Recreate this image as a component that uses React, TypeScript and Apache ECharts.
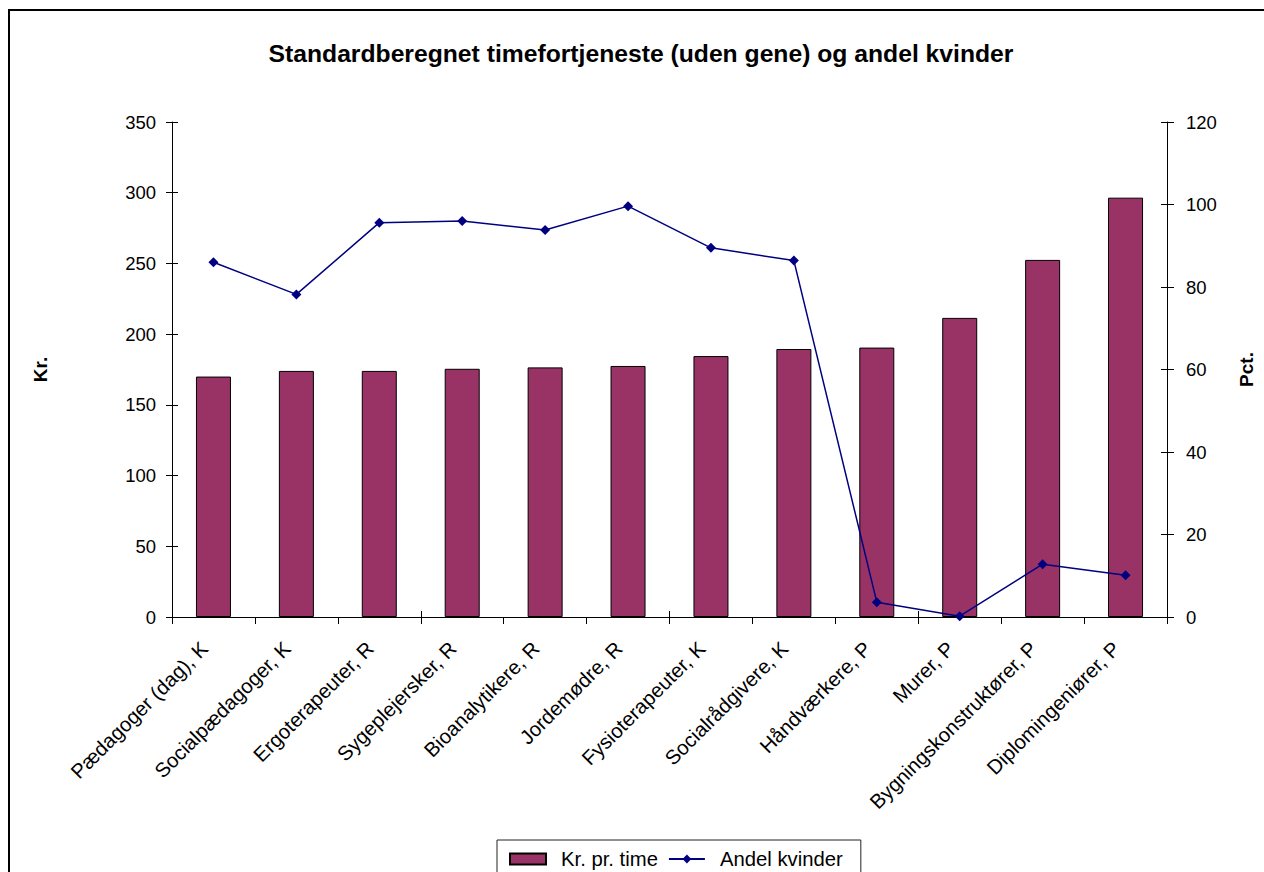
import React, { useEffect, useRef } from "react";
import * as echarts from "echarts";

const categories = [
  "Pædagoger (dag), K",
  "Socialpædagoger, K",
  "Ergoterapeuter, R",
  "Sygeplejersker, R",
  "Bioanalytikere, R",
  "Jordemødre, R",
  "Fysioterapeuter, K",
  "Socialrådgivere, K",
  "Håndværkere, P",
  "Murer, P",
  "Bygningskonstruktører, P",
  "Diplomingeniører, P",
];
const krPrTime = [170, 174, 174, 175.5, 176.5, 177.5, 184.5, 189.5, 190.5, 211.5, 252.5, 296.5];
const andelKvinder = [86, 78.2, 95.6, 96, 93.8, 99.6, 89.5, 86.4, 3.6, 0.2, 12.8, 10.1];

const titleText = "Standardberegnet timefortjeneste (uden gene) og andel kvinder";
const leftName = "Kr.";
const rightName = "Pct.";
const barName = "Kr. pr. time";
const lineName = "Andel kvinder";
const leftMax = 350;
const leftStep = 50;
const rightMax = 120;
const rightStep = 20;

const FONT = "Arial, 'Liberation Sans', sans-serif";

export default function App() {
  const ref = useRef<HTMLDivElement>(null);
  useEffect(() => {
    if (!ref.current) return;
    const chart = echarts.init(ref.current, undefined, { renderer: "svg" });
    const axisLine = { show: true, lineStyle: { color: "#000", width: 1 } };
    const labelStyle = { color: "#000", fontSize: 18.5, fontFamily: FONT };
    chart.setOption({
      animation: false,
      backgroundColor: "#fff",
      textStyle: { fontFamily: FONT },
      grid: { left: 172, right: 91, top: 122, bottom: 255, containLabel: false },
      graphic: [
        {
          type: "rect",
          shape: { x: 9, y: 10, width: 1300, height: 920 },
          style: { fill: "none", stroke: "#000", lineWidth: 2 },
          silent: true,
        },
        {
          type: "text",
          x: 641,
          y: 53,
          style: {
            text: titleText,
            fill: "#000",
            font: `bold 24.7px ${FONT}`,
            textAlign: "center",
            textVerticalAlign: "middle",
          },
        },
      ],
      legend: {
        left: 497,
        top: 840,
        padding: [9, 18, 30, 12],
        borderColor: "#222",
        borderWidth: 1,
        itemGap: 10,
        itemWidth: 36,
        itemHeight: 11,
        textStyle: { color: "#000", fontSize: 20.3, fontFamily: FONT, padding: [0, 0, 0, 10] },
        data: [
          { name: barName, icon: "rect" },
          { name: lineName },
        ],
      },
      xAxis: [
        {
          type: "category",
          data: categories,
          position: "bottom",
          axisLine,
          axisTick: { show: true, length: 7, lineStyle: { color: "#000" } },
          axisLabel: {
            ...labelStyle,
            fontSize: 20.3,
            rotate: 45,
            margin: 19,
            interval: 0,
            padding: [0, 13, 0, 0],
          },
          splitLine: { show: false },
        },
        {
          type: "category",
          data: categories,
          position: "bottom",
          axisLine: { show: false },
          axisTick: { show: true, inside: true, length: 6, lineStyle: { color: "#000" } },
          axisLabel: { show: false },
          splitLine: { show: false },
        },
      ],
      yAxis: [
        {
          type: "value",
          position: "left",
          min: 0,
          max: leftMax,
          interval: leftStep,
          name: leftName,
          nameLocation: "middle",
          nameRotate: 90,
          nameGap: 122,
          nameTextStyle: { color: "#000", fontSize: 19, fontWeight: "bold", fontFamily: FONT },
          axisLine,
          axisTick: { show: true, length: 6, lineStyle: { color: "#000" } },
          axisLabel: { ...labelStyle, margin: 16 },
          splitLine: { show: false },
        },
        {
          type: "value",
          position: "right",
          min: 0,
          max: rightMax,
          interval: rightStep,
          name: rightName,
          nameLocation: "middle",
          nameRotate: 90,
          nameGap: 70,
          nameTextStyle: { color: "#000", fontSize: 19, fontWeight: "bold", fontFamily: FONT },
          axisLine,
          axisTick: { show: true, length: 7, lineStyle: { color: "#000" } },
          axisLabel: { ...labelStyle, margin: 19 },
          splitLine: { show: false },
        },
        {
          type: "value",
          position: "left",
          min: 0,
          max: leftMax,
          interval: leftStep,
          axisLine: { show: false },
          axisTick: { show: true, inside: true, length: 6, lineStyle: { color: "#000" } },
          axisLabel: { show: false },
          splitLine: { show: false },
        },
        {
          type: "value",
          position: "right",
          min: 0,
          max: rightMax,
          interval: rightStep,
          axisLine: { show: false },
          axisTick: { show: true, inside: true, length: 6, lineStyle: { color: "#000" } },
          axisLabel: { show: false },
          splitLine: { show: false },
        },
      ],
      series: [
        {
          name: barName,
          type: "bar",
          xAxisIndex: 0,
          yAxisIndex: 0,
          data: krPrTime,
          barWidth: 35,
          itemStyle: { color: "#993366", borderColor: "#000", borderWidth: 1 },
        },
        {
          name: lineName,
          type: "line",
          xAxisIndex: 0,
          yAxisIndex: 1,
          data: andelKvinder,
          symbol: "diamond",
          symbolSize: 10,
          lineStyle: { color: "#000080", width: 1.5 },
          itemStyle: { color: "#000080" },
        },
      ],
    });
    return () => chart.dispose();
  }, []);
  return (
    <div
      ref={ref}
      style={{ position: "absolute", left: 0, top: 0, width: 1264, height: 872 }}
    />
  );
}
